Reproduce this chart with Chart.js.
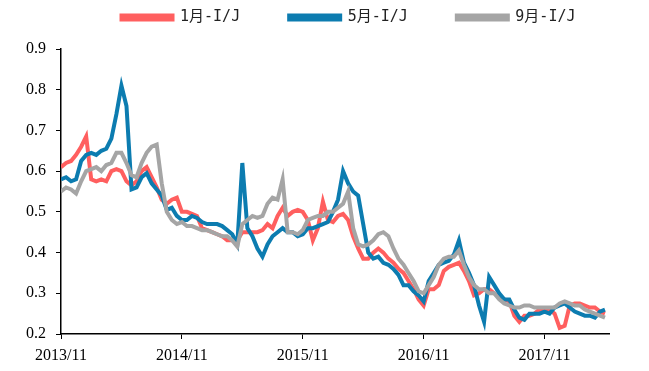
<!DOCTYPE html>
<html>
<head>
<meta charset="utf-8">
<script src="https://cdn.jsdelivr.net/npm/chart.js@4/dist/chart.umd.min.js"></script>
<style>
  html, body { margin: 0; padding: 0; background: #fff; }
  #wrap { width: 649px; height: 371px; }
</style>
</head>
<body>
<div id="wrap"><canvas id="spread" width="649" height="371"></canvas></div>
<script>
// half-monthly readings starting 2013/11
const startYear = 2013;
const stepMonths = 0.5;
const xTickLabels = ['2013/11', '2014/11', '2015/11', '2016/11', '2017/11'];
const yTicks = [0.2, 0.3, 0.4, 0.5, 0.6, 0.7, 0.8, 0.9];

const janRatio = [
  0.61, 0.62, 0.625, 0.64, 0.66, 0.685, 0.58, 0.575, 0.58, 0.575,
  0.6, 0.605, 0.6, 0.575, 0.565, 0.575, 0.6, 0.61, 0.585, 0.56,
  0.53, 0.52, 0.53, 0.535, 0.5, 0.5, 0.495, 0.49, 0.46, 0.455,
  0.45, 0.445, 0.44, 0.43, 0.43, 0.43, 0.45, 0.45, 0.45, 0.45,
  0.455, 0.47, 0.46, 0.49, 0.51, 0.49, 0.5, 0.505, 0.5, 0.48,
  0.43, 0.46, 0.525, 0.48, 0.475, 0.49, 0.495, 0.48, 0.44, 0.41,
  0.385, 0.385, 0.4, 0.41, 0.4, 0.385, 0.375, 0.36, 0.35, 0.33,
  0.31, 0.285, 0.27, 0.31, 0.31, 0.32, 0.355, 0.365, 0.37, 0.375,
  0.355, 0.33, 0.295, 0.3, 0.31, 0.31, 0.3, 0.29, 0.285, 0.28,
  0.245, 0.23, 0.245, 0.245, 0.25, 0.26, 0.26, 0.26, 0.25, 0.215,
  0.22, 0.27, 0.275, 0.275, 0.27, 0.265, 0.265, 0.255, 0.25
];
const mayRatio = [
  0.58, 0.585, 0.575, 0.58, 0.625, 0.64, 0.645, 0.64, 0.65, 0.655,
  0.68, 0.74, 0.81, 0.76, 0.555, 0.56, 0.585, 0.595, 0.57, 0.555,
  0.54, 0.505, 0.51, 0.49, 0.48, 0.48, 0.49, 0.485, 0.475, 0.47,
  0.47, 0.47, 0.465, 0.455, 0.445, 0.42, 0.62, 0.46, 0.44, 0.41,
  0.39, 0.42, 0.44, 0.45, 0.46, 0.45, 0.45, 0.44, 0.445, 0.46,
  0.46, 0.465, 0.47, 0.475, 0.5, 0.53, 0.6, 0.57, 0.55, 0.54,
  0.47, 0.4, 0.385, 0.39, 0.375, 0.37, 0.36, 0.345, 0.32, 0.32,
  0.305, 0.295, 0.28, 0.33, 0.35, 0.37, 0.375, 0.38, 0.395, 0.43,
  0.375, 0.35, 0.32, 0.27, 0.23, 0.34, 0.32, 0.3, 0.285, 0.285,
  0.26, 0.24, 0.235, 0.25, 0.25, 0.25, 0.255, 0.25, 0.265, 0.27,
  0.275, 0.265, 0.255, 0.25, 0.245, 0.245, 0.24, 0.255, 0.26
];
const sepRatio = [
  0.55, 0.56, 0.555, 0.545, 0.575, 0.6, 0.605, 0.61, 0.6, 0.615,
  0.62, 0.645, 0.645, 0.62, 0.59, 0.585, 0.62, 0.645, 0.66, 0.665,
  0.57, 0.5, 0.48, 0.47, 0.475, 0.465, 0.465, 0.46, 0.455, 0.455,
  0.45, 0.445, 0.44, 0.44, 0.43, 0.415, 0.47, 0.48, 0.49, 0.485,
  0.49, 0.52, 0.535, 0.53, 0.58, 0.45, 0.45, 0.445, 0.455, 0.48,
  0.485, 0.49, 0.49, 0.5, 0.5, 0.51, 0.52, 0.55, 0.46, 0.42,
  0.415, 0.42, 0.43, 0.445, 0.45, 0.44, 0.41, 0.385, 0.37, 0.35,
  0.33, 0.305, 0.3, 0.32, 0.34, 0.37, 0.385, 0.39, 0.39, 0.405,
  0.37, 0.34, 0.32, 0.31, 0.31, 0.3, 0.3, 0.285, 0.275, 0.27,
  0.265, 0.265, 0.27, 0.27, 0.265, 0.265, 0.265, 0.265, 0.265, 0.275,
  0.28, 0.275, 0.27, 0.27, 0.26, 0.255, 0.25, 0.245, 0.24
];

const seriesNames = ['1月-I/J', '5月-I/J', '9月-I/J'];
const seriesColors = ['#FF5F5F', '#0C7CB0', '#A5A5A5'];

// x value is months since 2013/11
function toPoints(values) {
  return values.map((v, i) => ({ x: i * stepMonths, y: v }));
}

const serif = "'Liberation Serif', 'Times New Roman', serif";
const legendFont = "'DejaVu Sans Mono', 'Noto Sans CJK SC', monospace";

const datasets = [janRatio, mayRatio, sepRatio].map((vals, k) => ({
  label: seriesNames[k],
  data: toPoints(vals),
  borderColor: seriesColors[k],
  backgroundColor: seriesColors[k],
  borderWidth: 4,
  pointRadius: 0,
  tension: 0,
  order: 3 - k // later series drawn on top
}));

// the legend keeps wide gaps between items but only a short strip of height
const legendSpot = {
  id: 'legendSpot',
  beforeInit(chart) {
    const lg = chart.legend;
    const fit = lg.fit;
    lg.fit = function () {
      fit.call(this);
      this.height = 49;
    };
  },
  afterLayout(chart) {
    const lg = chart.legend;
    lg.top = -39;
    lg.left += 44;
    lg.right += 44;
  }
};

new Chart(document.getElementById('spread'), {
  type: 'line',
  data: { datasets },
  plugins: [legendSpot],
  options: {
    responsive: false,
    animation: false,
    layout: { padding: { top: 0, right: 40, left: 0, bottom: 0 } },
    plugins: {
      tooltip: { enabled: false },
      legend: {
        position: 'top',
        labels: {
          boxWidth: 51,
          boxHeight: 4,
          padding: 49,
          color: '#222',
          font: { family: legendFont, size: 15 },
          sort: (a, b) => a.datasetIndex - b.datasetIndex
        }
      }
    },
    scales: {
      x: {
        type: 'linear',
        min: 0,
        max: 54.4,
        grid: { drawOnChartArea: false, drawTicks: true, tickLength: 5, color: '#000' },
        border: { display: true, color: '#000', width: 1.5 },
        ticks: {
          stepSize: 12,
          includeBounds: false,
          autoSkip: false,
          maxRotation: 0,
          padding: 7,
          color: '#000',
          font: { family: serif, size: 16 },
          callback: v => xTickLabels[Math.round(v / 12)] || ''
        },
        afterFit: s => { s.height = 37; }
      },
      y: {
        min: yTicks[0],
        max: yTicks[yTicks.length - 1],
        grid: { drawOnChartArea: false, drawTicks: true, tickLength: 5, color: '#000' },
        border: { display: true, color: '#000', width: 1.5 },
        ticks: {
          stepSize: 0.1,
          padding: 10,
          color: '#000',
          font: { family: serif, size: 16 },
          callback: v => v.toFixed(1)
        },
        afterFit: s => { s.width = 61; }
      }
    }
  }
});
</script>
</body>
</html>
